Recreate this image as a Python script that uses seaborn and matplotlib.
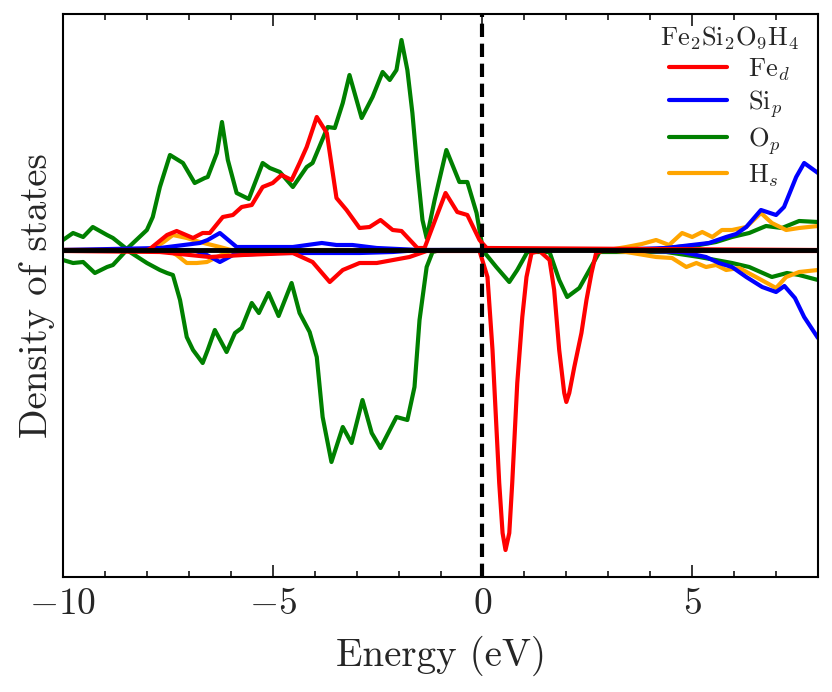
import numpy as np
import pandas as pd
import seaborn as sns
import matplotlib
matplotlib.use("Agg")
import matplotlib.pyplot as plt
from matplotlib.ticker import MultipleLocator, FuncFormatter, NullLocator

# ---------------- data ----------------
o_up_E = [-10.0, -9.76, -9.52, -9.29, -8.95, -8.81, -8.48, -8.0, -7.86, -7.69, -7.45, -7.14, -6.86,
          -6.62, -6.55, -6.33, -6.21, -6.07, -5.86, -5.57, -5.24, -5.07, -4.83, -4.52, -4.19, -4.05,
          -3.69, -3.52, -3.33, -3.17, -2.88, -2.62, -2.38, -2.21, -2.05, -1.93, -1.79, -1.67, -1.55,
          -1.43, -1.33, -1.14, -0.86, -0.55, -0.36, -0.14, 0.0, 0.3, 4.0, 4.38, 5.17, 5.57, 5.95,
          6.36, 6.76, 7.14, 7.55, 8.0]
o_up_V = [1.0, 1.7, 1.3, 2.3, 1.5, 1.2, 0.1, 2.0, 3.3, 6.3, 9.5, 8.7, 6.7,
          7.2, 7.3, 9.7, 12.8, 9.0, 5.7, 5.1, 8.7, 8.2, 7.8, 6.3, 8.3, 8.7,
          12.3, 12.2, 14.7, 17.5, 13.2, 15.3, 17.8, 17.0, 18.0, 21.0, 18.0, 13.7, 8.0,
          3.0, 1.2, 5.0, 10.0, 6.8, 6.8, 3.7, 0.3, 0.0, 0.0, 0.2, 0.5, 0.8, 1.3,
          1.7, 2.4, 2.2, 2.9, 2.8]

o_dn_E = [-10.0, -9.76, -9.52, -9.24, -8.95, -8.81, -8.48, -8.0, -7.69, -7.52, -7.38, -7.21, -7.05,
          -6.9, -6.67, -6.55, -6.38, -6.1, -5.9, -5.74, -5.5, -5.33, -5.1, -4.86, -4.55, -4.36,
          -4.12, -3.95, -3.81, -3.6, -3.33, -3.12, -2.86, -2.64, -2.43, -2.05, -1.79, -1.62, -1.5,
          -1.33, -1.19, -1.0, 0.0, 0.33, 0.64, 0.83, 1.07, 1.6, 1.83, 2.02, 2.31, 2.55, 2.79,
          4.38, 5.17, 5.95, 6.36, 6.9, 7.26, 7.55, 8.0]
o_dn_V = [-1.0, -1.3, -1.2, -2.3, -1.7, -1.5, 0.0, -1.3, -2.0, -2.3, -2.5, -5.0, -8.7,
          -10.0, -11.3, -10.0, -8.0, -10.2, -8.3, -7.8, -5.3, -6.3, -4.3, -6.6, -3.3, -6.3,
          -8.2, -10.7, -16.7, -21.2, -17.7, -19.3, -15.0, -18.3, -19.8, -16.7, -17.0, -13.7, -7.0,
          -1.7, -0.2, 0.0, 0.0, -1.7, -3.2, -2.0, -0.2, -0.2, -3.0, -4.7, -3.8, -2.0, -0.2,
          -0.2, -0.7, -1.3, -1.7, -2.7, -2.3, -2.5, -3.0]

fe_up_E = [-10.0, -8.0, -7.93, -7.52, -7.29, -6.9, -6.67, -6.5, -6.19, -5.95, -5.74, -5.5, -5.24,
           -5.0, -4.79, -4.55, -4.36, -4.19, -3.95, -3.71, -3.48, -3.24, -2.93, -2.69, -2.43,
           -2.14, -1.93, -1.55, -1.38, -1.1, -0.88, -0.6, -0.36, -0.07, 0.1, 8.0]
fe_up_V = [0.0, 0.0, 0.1, 1.5, 1.9, 1.2, 1.7, 1.7, 3.3, 3.5, 4.3, 4.5, 6.3,
           6.7, 7.5, 7.0, 8.7, 10.3, 13.3, 11.7, 5.2, 4.0, 2.2, 2.3, 3.0,
           2.0, 1.9, 0.2, 0.2, 3.3, 5.7, 3.8, 3.5, 1.0, 0.2, 0.0]

fe_dn_E = [-10.0, -7.69, -6.5, -5.71, -4.52, -4.05, -3.64, -3.33, -2.93, -2.52, -1.74, -1.33,
           -0.07, 0.12, 0.24, 0.4, 0.48, 0.55, 0.64, 0.71, 0.83, 0.95, 1.05, 1.17, 1.36, 1.6,
           1.71, 1.83, 1.95, 2.0, 2.07, 2.19, 2.36, 2.48, 2.6, 2.71, 2.86, 8.0]
fe_dn_V = [-0.1, -0.2, -0.7, -0.5, -0.3, -1.2, -3.2, -2.0, -1.3, -1.3, -0.7, -0.1,
           -0.1, -2.7, -10.0, -23.3, -28.3, -30.0, -28.3, -23.3, -13.3, -6.7, -2.7, -0.3, -0.1, -1.0,
           -4.0, -10.0, -14.3, -15.2, -14.3, -11.7, -8.3, -5.0, -2.3, -0.3, -0.1, -0.1]

si_up_E = [-10.0, -7.69, -6.74, -6.55, -6.26, -5.86, -4.52, -3.83, -3.48, -3.1, -2.52, -1.5,
           3.0, 4.38, 5.4, 5.81, 6.05, 6.29, 6.64, 7.0, 7.19, 7.48, 7.67, 8.0]
si_up_V = [0.0, 0.2, 0.7, 1.0, 1.7, 0.3, 0.3, 0.7, 0.5, 0.5, 0.2, 0.0,
           0.0, 0.2, 0.7, 1.3, 1.6, 2.3, 4.0, 3.5, 4.3, 7.3, 8.7, 7.7]

si_dn_E = [-10.0, -6.9, -6.57, -6.26, -5.95, -4.9, -3.71, -2.93, -2.14, -1.5, 3.0, 4.76, 5.33,
           5.64, 5.95, 6.29, 6.67, 7.0, 7.2, 7.45, 7.67, 8.0]
si_dn_V = [0.0, 0.0, -0.5, -1.2, -0.5, -0.3, -0.3, -0.3, -0.2, 0.0, 0.0, -0.2, -0.7,
           -1.3, -1.7, -2.7, -3.7, -4.2, -3.6, -4.8, -6.7, -8.8]

h_up_E = [-10.0, -7.9, -7.6, -7.38, -7.05, -6.74, -6.26, -6.0, 3.0, 3.43, 3.8, 4.14, 4.45,
          4.76, 5.0, 5.24, 5.48, 5.71, 5.95, 6.29, 6.64, 6.9, 7.24, 7.55, 8.0]
h_up_V = [0.0, 0.0, 0.8, 1.5, 1.2, 0.8, 0.3, 0.0, 0.0, 0.3, 0.6, 1.0, 0.5,
          1.7, 1.3, 1.8, 1.3, 2.0, 2.0, 2.3, 3.7, 2.7, 2.0, 2.2, 2.4]

h_dn_E = [-10.0, -7.5, -7.29, -7.05, -6.81, -6.57, -6.33, -6.0, 3.0, 3.43, 4.14, 4.52, 4.86,
          5.1, 5.33, 5.57, 5.81, 6.12, 6.52, 7.0, 7.24, 7.55, 8.0]
h_dn_V = [0.0, 0.0, -0.5, -1.3, -1.3, -1.2, -0.7, -0.1, 0.0, -0.2, -0.7, -0.8, -1.7,
          -1.3, -1.7, -1.5, -2.0, -1.8, -2.7, -3.8, -2.7, -2.2, -2.0]

legend_labels = [r"$\mathrm{Fe}_d$", r"$\mathrm{Si}_p$", r"$\mathrm{O}_p$", r"$\mathrm{H}_s$"]
legend_title = r"$\mathrm{Fe_2Si_2O_9H_4}$"
colors = {"Fe": "red", "Si": "blue", "O": "green", "H": "orange"}
x_ticks = [-10, -5, 0, 5]

# ---------------- style ----------------
sns.set_style("ticks")
plt.rcParams["font.family"] = "serif"
plt.rcParams["font.serif"] = ["cmr10", "DejaVu Serif"]
plt.rcParams["mathtext.fontset"] = "cm"
plt.rcParams["axes.formatter.use_mathtext"] = True

fig = plt.figure(figsize=(8.32, 6.92), dpi=100)
ax = fig.add_axes([63 / 832, 1 - 577 / 692, (818 - 63) / 832, (577 - 14) / 692])

lw = 3.0
series = [
    ("O", o_up_E, o_up_V, o_dn_E, o_dn_V),
    ("H", h_up_E, h_up_V, h_dn_E, h_dn_V),
    ("Si", si_up_E, si_up_V, si_dn_E, si_dn_V),
    ("Fe", fe_up_E, fe_up_V, fe_dn_E, fe_dn_V),
]
for name, eu, vu, ed, vd in series:
    sns.lineplot(x=eu, y=vu, ax=ax, color=colors[name], lw=lw, sort=False, estimator=None)
    sns.lineplot(x=ed, y=vd, ax=ax, color=colors[name], lw=lw, sort=False, estimator=None)

ax.axhline(0, color="black", lw=3.5, zorder=5)
ax.axvline(0, color="black", lw=3.0, ls=(0, (3.2, 1.6)), zorder=5)

ax.set_xlim(-10, 8)
ax.set_ylim(-32.7, 23.6)
ax.set_xticks(x_ticks)
ax.xaxis.set_minor_locator(MultipleLocator(1))
ax.xaxis.set_major_formatter(FuncFormatter(lambda v, p: f"${v:g}$"))
ax.yaxis.set_major_locator(NullLocator())
ax.yaxis.set_minor_locator(NullLocator())
ax.tick_params(axis="x", which="major", direction="in", top=True, length=8.5, width=1.3,
               labelsize=27, pad=8)
ax.tick_params(axis="x", which="minor", direction="in", top=True, length=4.5, width=1.3)
for s in ax.spines.values():
    s.set_linewidth(1.5)
    s.set_color("black")

ax.set_xlabel("Energy (eV)", fontsize=28, labelpad=10)
ax.set_ylabel("Density of states", fontsize=28, labelpad=6)

handles = [plt.Line2D([], [], color=colors[k], lw=lw) for k in ["Fe", "Si", "O", "H"]]
leg = ax.legend(handles, legend_labels, title=legend_title, loc="upper right",
                bbox_to_anchor=(1.0, 1.015),
                frameon=False, fontsize=19, title_fontsize=19, handlelength=2.2,
                labelspacing=0.2, borderaxespad=0.3)

fig.savefig("out.png", dpi=100)
